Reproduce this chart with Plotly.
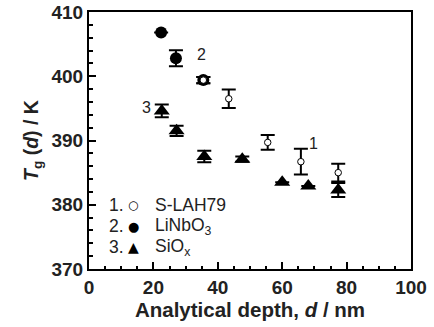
import plotly.graph_objects as go

# S-LAH79 (open circles)
slah_x = [35.5, 43.4, 55.5, 65.8, 77.4]
slah_y = [399.4, 396.5, 389.7, 386.7, 385.0]
slah_err = [0.5, 1.45, 1.15, 2.0, 1.4]

# LiNbO3 (filled circles)
lnb_x = [22.4, 27.0, 35.5]
lnb_y = [406.8, 402.8, 399.4]
lnb_err = [None, 1.25, 0.5]

# SiOx (filled triangles)
siox_x = [22.6, 27.2, 35.8, 47.6, 60.0, 68.1, 77.4]
siox_y = [394.6, 391.5, 387.5, 387.1, 383.5, 382.9, 382.3]
siox_err = [1.0, 0.8, 0.9, 0.4, None, None, 1.1]

x_ticks = [0, 20, 40, 60, 80, 100]
y_ticks = [370, 380, 390, 400, 410]

# series number labels (text, x, y in data units)
series_labels = [("2", 35.0, 403.4), ("3", 18.0, 395.2), ("1", 69.8, 389.6)]

FONT = "Liberation Sans, Arial, sans-serif"
TXT = "#222"

fig = go.Figure()

fig.add_trace(go.Scatter(
    x=siox_x, y=siox_y, mode="markers",
    marker=dict(symbol="triangle-up", size=14, color="black"),
    error_y=dict(type="data", array=siox_err, color="black", thickness=2, width=7),
    showlegend=False))

fig.add_trace(go.Scatter(
    x=lnb_x, y=lnb_y, mode="markers",
    marker=dict(symbol="circle", size=12, color="black"),
    error_y=dict(type="data", array=lnb_err, color="black", thickness=2, width=7),
    showlegend=False))

fig.add_trace(go.Scatter(
    x=slah_x, y=slah_y, mode="markers",
    marker=dict(symbol="circle", size=6.5, color="white", line=dict(color="black", width=1)),
    error_y=dict(type="data", array=slah_err, color="black", thickness=2, width=7),
    showlegend=False))

for txt, xx, yy in series_labels:
    fig.add_annotation(x=xx, y=yy, xref="x", yref="y", text=txt, showarrow=False,
                       xanchor="center", yanchor="middle",
                       font=dict(family=FONT, size=16, color=TXT))

L, R, T, B = 89, 23, 12, 58
W, H = 434, 327
pw, ph = W - L - R, H - T - B

legend_rows = [
    ("1.", "○", 12, "S-LAH79", 205),
    ("2.", "●", 13, "LiNbO<sub>3</sub>", 226),
    ("3.", "▲", 14, "SiO<sub>x</sub>", 247),
]
for num, sym, ssize, lab, py in legend_rows:
    yy = 1 - (py - T) / ph
    fig.add_annotation(x=(107 - L) / pw, y=yy, xref="paper", yref="paper", text=num,
                       showarrow=False, xanchor="left", yanchor="middle",
                       font=dict(family=FONT, size=17.5, color=TXT))
    fig.add_annotation(x=(133 - L) / pw, y=yy, xref="paper", yref="paper", text=sym,
                       showarrow=False, xanchor="center", yanchor="middle",
                       font=dict(family="DejaVu Sans", size=ssize, color="black"))
    fig.add_annotation(x=(153 - L) / pw, y=yy, xref="paper", yref="paper", text=lab,
                       showarrow=False, xanchor="left", yanchor="middle",
                       font=dict(family=FONT, size=17.5, color=TXT))

fig.update_xaxes(
    range=[0, 100], tickvals=x_ticks, ticks="inside", ticklen=7, tickwidth=1.5,
    tickcolor="black", showline=True, linecolor="black", linewidth=2, mirror=True,
    showgrid=False, zeroline=False, automargin=False,
    minor=dict(dtick=5, ticks="inside", ticklen=3.5, tickwidth=1.5, tickcolor="black", showgrid=False),
    tickfont=dict(family=FONT, size=19, color=TXT, weight="bold"),
    title=dict(text="<b>Analytical depth, <i>d</i> / nm</b>", font=dict(family=FONT, size=20.5, color=TXT), standoff=2),
)
fig.update_yaxes(
    range=[370, 410], tickvals=y_ticks, ticks="inside", ticklen=7, tickwidth=1.5,
    tickcolor="black", showline=True, linecolor="black", linewidth=2, mirror=True,
    showgrid=False, zeroline=False, automargin=False,
    minor=dict(dtick=2, ticks="inside", ticklen=3.5, tickwidth=1.5, tickcolor="black", showgrid=False),
    tickfont=dict(family=FONT, size=19, color=TXT, weight="bold"),
    title=dict(text="<b><i>T</i><sub>g</sub> (<i>d</i>) / K</b>", font=dict(family=FONT, size=19.5, color=TXT), standoff=8),
)
fig.update_layout(
    width=W, height=H,
    margin=dict(l=L, r=R, t=T, b=B, autoexpand=False),
    plot_bgcolor="white", paper_bgcolor="white",
    showlegend=False,
)

fig.write_html("out.html")
